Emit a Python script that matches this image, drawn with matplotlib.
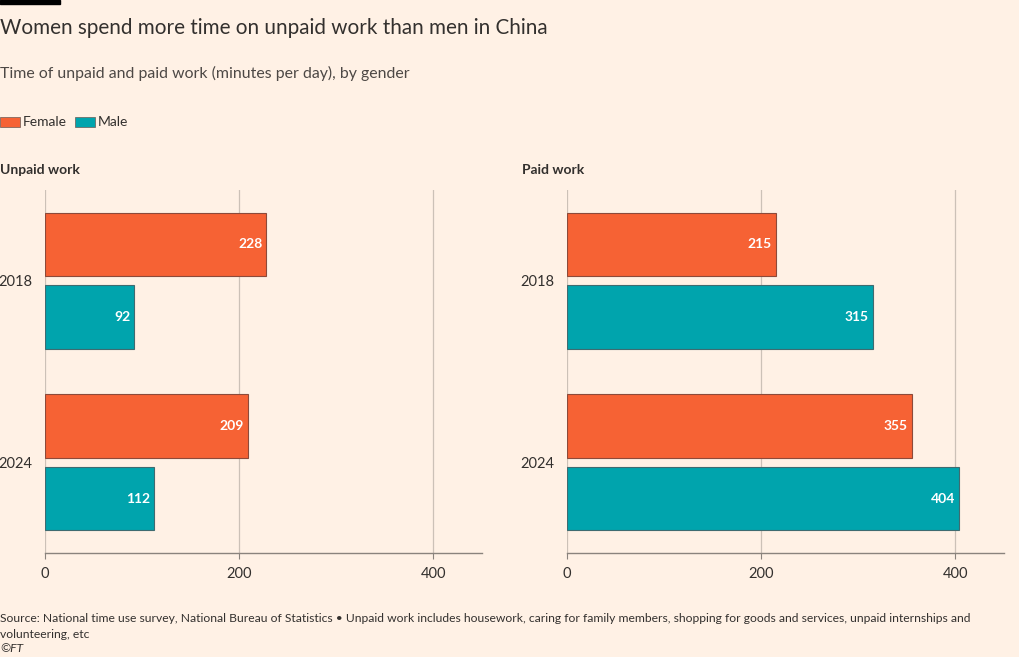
import matplotlib.pyplot as plt
import numpy as np

plt.rcParams['font.family'] = ['Lato', 'DejaVu Sans']

years = ['2018', '2024']
unpaid_female = [228, 209]
unpaid_male = [92, 112]
paid_female = [215, 355]
paid_male = [315, 404]

bg = '#fff1e5'
txt = '#33302e'
c_female = '#f66234'
c_male = '#00a4ad'

fig = plt.figure(figsize=(10.2, 6.57), dpi=100)
fig.patch.set_facecolor(bg)

W, H = 1020, 657

def px_axes(x0, y0, x1, y1):
    return fig.add_axes([x0 / W, 1 - y1 / H, (x1 - x0) / W, (y1 - y0) / H])

panels = [
    ('Unpaid work', unpaid_female, unpaid_male, 45, 482, 0),
    ('Paid work', paid_female, paid_male, 567, 1004, 522),
]

y = np.arange(len(years))
bh = 0.352
for title, fem, mal, x0, x1, tx in panels:
    ax = px_axes(x0, 190, x1, 553)
    ax.set_facecolor(bg)
    ax.barh(y - 0.2, fem, height=bh, color=c_female, edgecolor='#8c4a3a', linewidth=0.8, zorder=3)
    ax.barh(y + 0.2, mal, height=bh, color=c_male, edgecolor='#3f6b70', linewidth=0.8, zorder=3)
    for i in range(len(years)):
        ax.text(fem[i] - 4, y[i] - 0.2, str(fem[i]), ha='right', va='center',
                color='white', fontsize=10, fontweight='bold', zorder=4)
        ax.text(mal[i] - 4, y[i] + 0.2, str(mal[i]), ha='right', va='center',
                color='white', fontsize=10, fontweight='bold', zorder=4)
    ax.set_xlim(0, 450)
    ax.set_ylim(1.5, -0.5)
    ax.set_xticks([0, 200, 400])
    ax.set_yticks(y)
    ax.set_yticklabels(years, ha='left')
    ax.grid(axis='x', color='#ccc1b7', linewidth=0.9, zorder=0)
    for s in ['top', 'right', 'left']:
        ax.spines[s].set_visible(False)
    ax.spines['bottom'].set_color('#8a837d')
    ax.spines['bottom'].set_linewidth(1.0)
    ax.tick_params(axis='y', length=0, pad=33.5, labelsize=10.5, labelcolor=txt)
    ax.tick_params(axis='x', length=4, color='#8a837d', pad=6, labelsize=10.5, labelcolor=txt)
    fig.text(tx / W, 1 - 170 / H, title, fontsize=10, fontweight='bold', color=txt,
             ha='left', va='center')

# header
fig.patches.append(plt.Rectangle((0, 1 - 4 / H), 60 / W, 4 / H, transform=fig.transFigure,
                                 color='black', figure=fig))
fig.text(0, 1 - 28 / H, 'Women spend more time on unpaid work than men in China',
         fontsize=14.9, color=txt, ha='left', va='center')
fig.text(0, 1 - 73 / H, 'Time of unpaid and paid work (minutes per day), by gender',
         fontsize=11.4, color='#4d4845', ha='left', va='center')

# legend
for lx, col, lab in [(0, c_female, 'Female'), (75, c_male, 'Male')]:
    fig.patches.append(plt.Rectangle((lx / W, 1 - 127 / H), 20 / W, 10 / H,
                                     transform=fig.transFigure, facecolor=col,
                                     edgecolor='#6a5a55', linewidth=0.5, figure=fig))
    fig.text((lx + 23) / W, 1 - 122 / H, lab, fontsize=10, color=txt, ha='left', va='center')

# footer
fig.text(0, 1 - 618 / H, 'Source: National time use survey, National Bureau of Statistics \u2022 '
         'Unpaid work includes housework, caring for family members, shopping for goods and services, '
         'unpaid internships and', fontsize=8.75, color=txt, ha='left', va='center')
fig.text(0, 1 - 634 / H, 'volunteering, etc', fontsize=8.75, color=txt, ha='left', va='center')
fig.text(0, 1 - 649 / H, '\u00a9FT', fontsize=8.75, color=txt, ha='left', va='center', style='italic')

fig.savefig('out.png', dpi=100, facecolor=bg)
